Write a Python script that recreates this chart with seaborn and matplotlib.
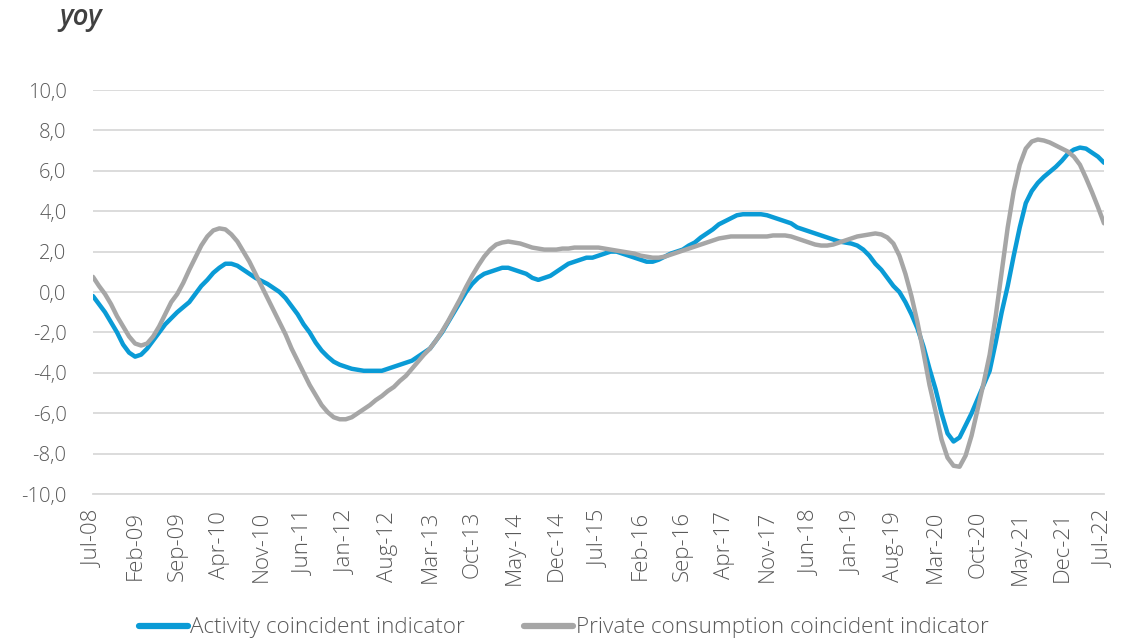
import numpy as np
import pandas as pd
import matplotlib.pyplot as plt
import seaborn as sns

# Monthly yoy values, Jul-08 .. Jul-22
activity = [
    -0.2, -0.6, -1.0, -1.5, -2.0, -2.6, -3.0, -3.2, -3.1, -2.8,
    -2.4, -2.0, -1.6, -1.3, -1.0, -0.75, -0.5, -0.1, 0.3, 0.6,
    0.95, 1.2, 1.4, 1.4, 1.3, 1.1, 0.9, 0.7, 0.55, 0.4,
    0.2, 0.0, -0.3, -0.7, -1.1, -1.6, -2.0, -2.5, -2.9, -3.2,
    -3.45, -3.6, -3.7, -3.8, -3.85, -3.9, -3.9, -3.9, -3.9, -3.8,
    -3.7, -3.6, -3.5, -3.4, -3.2, -3.0, -2.8, -2.4, -2.0, -1.5,
    -1.0, -0.5, 0.0, 0.4, 0.7, 0.9, 1.0, 1.1, 1.2, 1.2,
    1.1, 1.0, 0.9, 0.7, 0.6, 0.7, 0.8, 1.0, 1.2, 1.4,
    1.5, 1.6, 1.7, 1.7, 1.8, 1.9, 2.0, 2.0, 1.9, 1.8,
    1.7, 1.6, 1.5, 1.5, 1.6, 1.75, 1.9, 2.0, 2.1, 2.3,
    2.45, 2.7, 2.9, 3.1, 3.35, 3.5, 3.65, 3.8, 3.85, 3.85,
    3.85, 3.85, 3.8, 3.7, 3.6, 3.5, 3.4, 3.2, 3.1, 3.0,
    2.9, 2.8, 2.7, 2.6, 2.5, 2.45, 2.4, 2.3, 2.1, 1.8,
    1.4, 1.1, 0.7, 0.3, 0.0, -0.5, -1.1, -1.8, -2.7, -3.8,
    -4.8, -6.0, -7.0, -7.4, -7.2, -6.6, -6.0, -5.3, -4.6, -3.9,
    -2.5, -1.0, 0.3, 1.8, 3.2, 4.4, 5.0, 5.4, 5.7, 5.95,
    6.2, 6.5, 6.85, 7.05, 7.15, 7.1, 6.9, 6.7, 6.4,
]
consumption = [
    0.75, 0.3, -0.1, -0.6, -1.2, -1.7, -2.2, -2.55, -2.65, -2.55,
    -2.2, -1.7, -1.1, -0.5, -0.1, 0.45, 1.1, 1.7, 2.3, 2.75,
    3.05, 3.15, 3.1, 2.85, 2.5, 2.0, 1.5, 0.9, 0.3, -0.3,
    -0.9, -1.5, -2.1, -2.8, -3.4, -4.0, -4.6, -5.1, -5.6, -5.95,
    -6.2, -6.3, -6.3, -6.2, -6.0, -5.8, -5.6, -5.35, -5.15, -4.9,
    -4.7, -4.4, -4.15, -3.8, -3.45, -3.1, -2.8, -2.4, -1.95, -1.45,
    -0.9, -0.35, 0.25, 0.8, 1.3, 1.75, 2.1, 2.35, 2.45, 2.5,
    2.45, 2.4, 2.3, 2.2, 2.15, 2.1, 2.1, 2.1, 2.15, 2.15,
    2.2, 2.2, 2.2, 2.2, 2.2, 2.15, 2.1, 2.05, 2.0, 1.95,
    1.9, 1.8, 1.75, 1.7, 1.7, 1.75, 1.85, 1.95, 2.05, 2.15,
    2.25, 2.35, 2.45, 2.55, 2.65, 2.7, 2.75, 2.75, 2.75, 2.75,
    2.75, 2.75, 2.75, 2.8, 2.8, 2.8, 2.75, 2.65, 2.55, 2.45,
    2.35, 2.3, 2.3, 2.35, 2.45, 2.55, 2.65, 2.75, 2.8, 2.85,
    2.9, 2.85, 2.7, 2.4, 1.8, 0.9, -0.2, -1.5, -3.0, -4.6,
    -5.9, -7.3, -8.2, -8.6, -8.65, -8.1, -7.1, -5.8, -4.5, -3.1,
    -1.2, 1.0, 3.2, 5.0, 6.3, 7.1, 7.45, 7.55, 7.5, 7.4,
    7.25, 7.1, 6.95, 6.7, 6.3, 5.65, 4.95, 4.2, 3.4,
]

dates = pd.date_range("2008-07-01", periods=len(activity), freq="MS")
month_labels = [d.strftime("%b-%y") for d in dates]
y_ticks = [-10, -8, -6, -4, -2, 0, 2, 4, 6, 8, 10]

df = pd.DataFrame({
    "month": np.arange(len(activity)),
    "Activity coincident indicator": activity,
    "Private consumption coincident indicator": consumption,
})
long_df = df.melt(id_vars="month", var_name="series", value_name="yoy")

sns.set_theme(style="white")
plt.rcParams["font.family"] = ["Open Sans", "DejaVu Sans"]

fig = plt.figure(figsize=(11.27, 6.42), dpi=100)
ax = fig.add_axes([0.0825, 0.2305, 0.8971, 0.6293])

sns.lineplot(data=long_df, x="month", y="yoy", hue="series",
             palette=["#0a9bd6", "#a6a6a6"], linewidth=3.2, ax=ax,
             zorder=3)

ax.set_xlim(0, len(activity) - 1)
ax.set_ylim(-10, 10)
ax.set_yticks(y_ticks)
ax.set_yticklabels([f"{v:.1f}".replace(".", ",") for v in y_ticks],
                   color="#595959", fontsize=14.5, fontweight="light")
tick_pos = list(range(0, len(activity), 7))
ax.set_xticks(tick_pos)
ax.set_xticklabels([month_labels[i] for i in tick_pos], rotation=90,
                   color="#595959", fontsize=16, fontweight="light")
ax.tick_params(axis="y", length=0, pad=19)
ax.tick_params(axis="x", length=0, pad=12)
ax.grid(axis="y", color="#d9d9d9", linewidth=1.3, zorder=0)
for s in ["top", "right", "left"]:
    ax.spines[s].set_visible(False)
ax.spines["bottom"].set_color("#d9d9d9")
ax.spines["bottom"].set_linewidth(1.3)
ax.set_xlabel("")
ax.set_ylabel("")

fig.text(0.053, 0.972, "yoy", fontsize=20, style="italic", weight="semibold",
         color="#404040", ha="left", va="center")

handles, labels = ax.get_legend_handles_labels()
ax.legend(handles, labels, loc="center", ncol=2, frameon=False,
          handlelength=2.2, handletextpad=0.1,
          columnspacing=2.6, labelcolor="#595959",
          prop={"weight": "light", "size": 16.2})
leg = ax.get_legend()
leg.set_bbox_to_anchor((0.5, 0.022), transform=fig.transFigure)
for line in leg.get_lines():
    line.set_linewidth(4.5)
    line.set_solid_capstyle("round")

fig.savefig("out.png", dpi=100)
